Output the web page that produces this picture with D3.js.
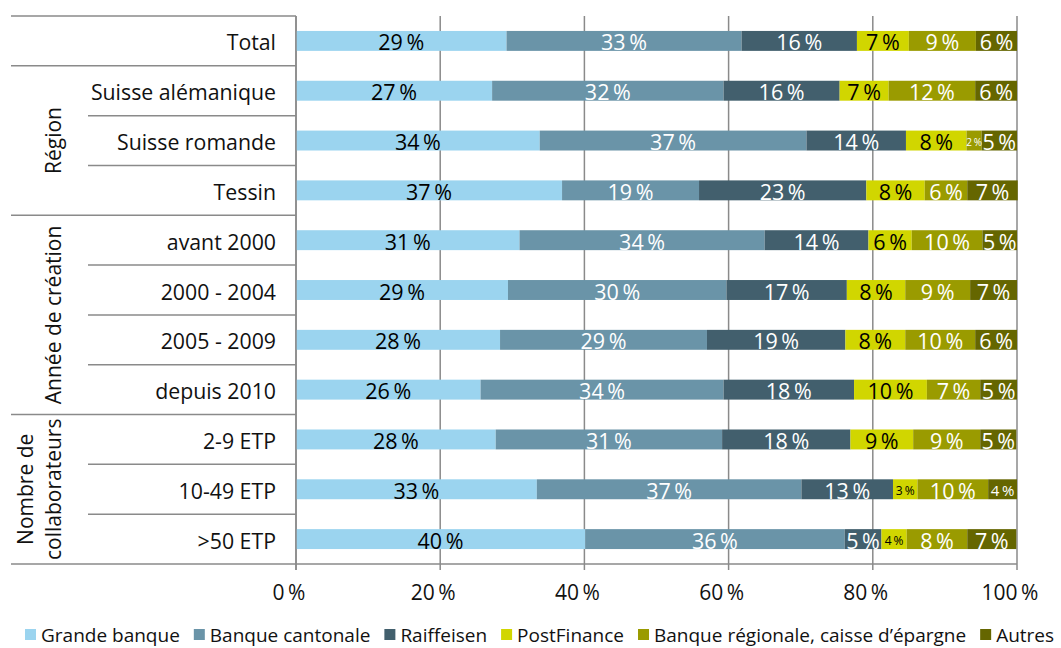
<!DOCTYPE html>
<html>
<head>
<meta charset="utf-8">
<script src="https://cdn.jsdelivr.net/npm/d3@7"></script>
<style>
  body { margin: 0; background: #fff; }
  svg { display: block; font-family: "Open Sans", sans-serif; }
</style>
</head>
<body>
<div id="viz"></div>
<script>
// categories (top to bottom)
const rows = ['Total', 'Suisse alémanique', 'Suisse romande', 'Tessin',
              'avant 2000', '2000 - 2004', '2005 - 2009', 'depuis 2010',
              '2-9 ETP', '10-49 ETP', '>50 ETP'];

const series = ['Grande banque', 'Banque cantonale', 'Raiffeisen', 'PostFinance',
                'Banque régionale, caisse d\u2019épargne', 'Autres'];

// values in %, one array per series, same order as rows
const grandeBanque    = [29.2, 27.2, 33.8, 36.9, 31.0, 29.4, 28.3, 25.6, 27.7, 33.4, 40.1];
const banqueCantonale = [32.6, 32.1, 37.0, 19.0, 34.0, 30.3, 28.7, 33.7, 31.4, 36.7, 36.0];
const raiffeisen      = [16.0, 16.1, 13.8, 23.2, 14.4, 16.7, 19.2, 18.1, 17.8, 12.7, 5.1];
const postFinance     = [7.2, 6.8, 8.4, 8.1, 6.0, 8.1, 8.3, 10.1, 8.7, 3.4, 3.5];
const banqueRegionale = [9.3, 12.0, 2.1, 5.9, 9.8, 9.0, 9.7, 7.4, 9.3, 9.8, 8.4];
const autres          = [5.7, 5.8, 4.9, 7.0, 4.8, 6.5, 5.8, 5.1, 5.0, 4.0, 6.8];

// row groups for the left table
const groups = [
  { name: ['Région'], from: 1, to: 3 },
  { name: ['Année de création'], from: 4, to: 7 },
  { name: ['Nombre de', 'collaborateurs'], from: 8, to: 10 }
];

const xTicks = [0, 20, 40, 60, 80, 100];

const colors = ['#9bd4ef', '#6a94a8', '#425f6d', '#d1d600', '#9a9b00', '#656600'];
const labelColors = ['#000', '#fff', '#fff', '#000', '#fff', '#fff'];

const values = [grandeBanque, banqueCantonale, raiffeisen, postFinance, banqueRegionale, autres];
const table = rows.map((r, i) => {
  const o = { row: r };
  series.forEach((s, j) => { o[s] = values[j][i]; });
  return o;
});

const width = 1061, height = 648;
const plotLeft = 296, plotRight = 1017, plotTop = 16, plotBottom = 564;
const tableLeft = 11, innerLeft = 88;
const gridColor = '#8a8a8a';

const svg = d3.select('#viz').append('svg')
  .attr('width', width)
  .attr('height', height);

const x = d3.scaleLinear().domain([0, 100]).range([plotLeft, plotRight]);
const y = d3.scaleBand().domain(rows).range([plotTop, plotBottom])
  .paddingInner(0.6).paddingOuter(0.3);
const step = y.step();

// grid lines with small ticks below the axis
svg.append('g').selectAll('line')
  .data(xTicks)
  .join('line')
  .attr('x1', d => x(d)).attr('x2', d => x(d))
  .attr('y1', plotTop).attr('y2', plotBottom + 6)
  .attr('stroke', gridColor)
  .attr('stroke-width', 1.5);

// tick labels
svg.append('g').selectAll('text')
  .data(xTicks)
  .join('text')
  .attr('x', d => x(d) - 7)
  .attr('y', 600)
  .attr('text-anchor', 'middle')
  .attr('font-size', 21)
  .attr('fill', '#111')
  .text(d => d + '\u2009%');

// left table lines
const rowTop = i => plotTop + i * step;
const hLines = [];
rows.forEach((r, i) => {
  const g = groups.find(g => i > g.from && i <= g.to);
  hLines.push({ y: rowTop(i), x1: g ? innerLeft : tableLeft });
});
hLines.push({ y: plotBottom, x1: tableLeft });

svg.append('g').selectAll('line')
  .data(hLines)
  .join('line')
  .attr('x1', d => d.x1).attr('x2', plotLeft)
  .attr('y1', d => d.y).attr('y2', d => d.y)
  .attr('stroke', gridColor)
  .attr('stroke-width', 1.5);

// x axis baseline
svg.append('line')
  .attr('x1', plotLeft).attr('x2', plotRight)
  .attr('y1', plotBottom).attr('y2', plotBottom)
  .attr('stroke', gridColor)
  .attr('stroke-width', 1.5);

// stacked bars
const stack = d3.stack().keys(series);
const layers = stack(table);

const layerG = svg.append('g').selectAll('g')
  .data(layers)
  .join('g')
  .attr('fill', (d, i) => colors[i]);

layerG.selectAll('rect')
  .data(d => d)
  .join('rect')
  .attr('x', d => x(d[0]))
  .attr('y', d => y(d.data.row))
  .attr('width', d => x(d[1]) - x(d[0]))
  .attr('height', y.bandwidth());

function labelSize(w) {
  if (w < 20) return 10;
  if (w < 27) return 12;
  if (w < 32) return 15;
  return 21.5;
}

layers.forEach((layer, i) => {
  svg.append('g').selectAll('text')
    .data(layer)
    .join('text')
    .attr('x', d => (x(d[0]) + x(d[1])) / 2)
    .attr('y', d => y(d.data.row) + y.bandwidth() / 2 + 1)
    .attr('text-anchor', 'middle')
    .attr('dominant-baseline', 'central')
    .attr('font-size', d => labelSize(x(d[1]) - x(d[0])))
    .attr('fill', labelColors[i])
    .text(d => Math.round(d[1] - d[0]) + '\u2009%');
});

// axis line at 0 %
svg.append('line')
  .attr('x1', plotLeft).attr('x2', plotLeft)
  .attr('y1', plotTop).attr('y2', plotBottom + 6)
  .attr('stroke', gridColor)
  .attr('stroke-width', 1.5);

// category labels
svg.append('g').selectAll('text')
  .data(rows)
  .join('text')
  .attr('x', 276)
  .attr('y', d => y(d) + y.bandwidth() / 2 + 1)
  .attr('text-anchor', 'end')
  .attr('dominant-baseline', 'central')
  .attr('font-size', 21.3)
  .attr('fill', '#111')
  .text(d => d);

// group labels (rotated)
groups.forEach(g => {
  const cy = (rowTop(g.from) + rowTop(g.to + 1)) / 2;
  const n = g.name.length;
  const t = svg.append('text')
    .attr('transform', `translate(${n > 1 ? 40 : 54},${cy}) rotate(-90)`)
    .attr('text-anchor', 'middle')
    .attr('font-size', 21)
    .attr('fill', '#111');
  g.name.forEach((line, k) => {
    t.append('tspan')
      .attr('x', 0)
      .attr('dy', k === 0 ? (n > 1 ? -7 : 7) : 28)
      .text(line);
  });
});

// legend
const legend = svg.append('g').attr('transform', 'translate(25, 634)');
let lx = 0;
series.forEach((s, i) => {
  const item = legend.append('g').attr('transform', `translate(${lx},0)`);
  item.append('rect')
    .attr('x', 0).attr('y', -5)
    .attr('width', 11).attr('height', 11)
    .attr('fill', colors[i]);
  const t = item.append('text')
    .attr('x', 16)
    .attr('y', 1)
    .attr('dominant-baseline', 'central')
    .attr('font-size', 19)
    .attr('fill', '#111')
    .text(s);
  lx += 16 + t.node().getComputedTextLength() + 14;
});
</script>
</body>
</html>
